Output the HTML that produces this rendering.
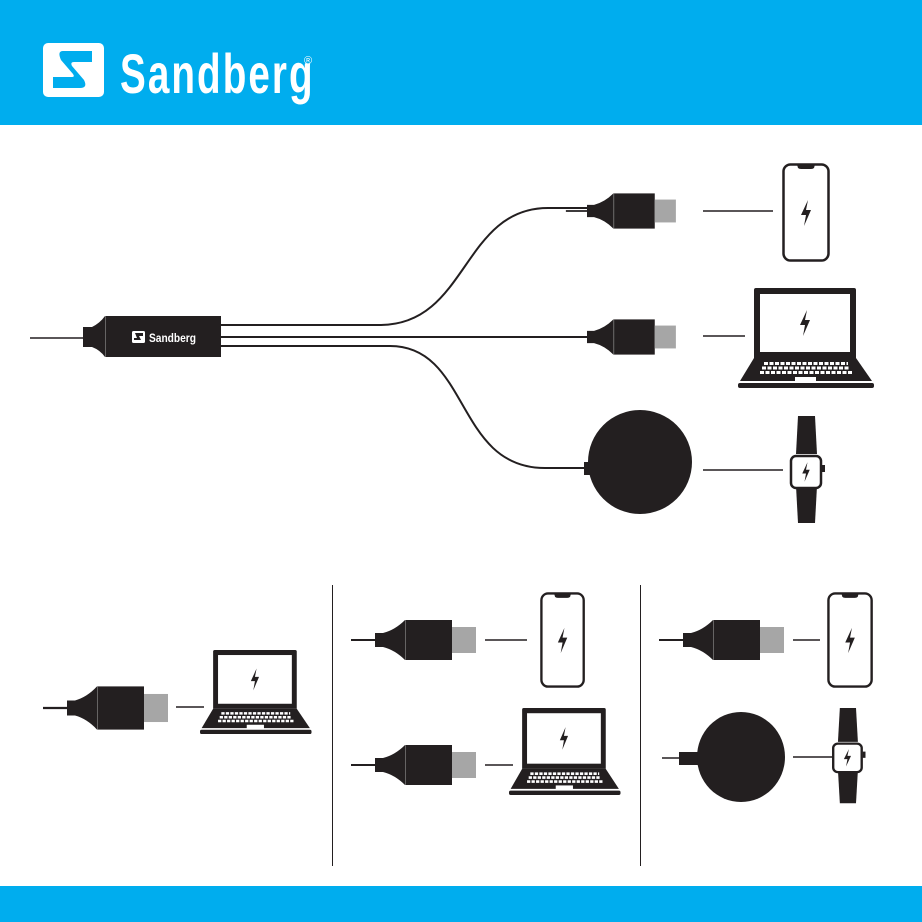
<!DOCTYPE html>
<html><head><meta charset="utf-8"><style>
html,body{margin:0;padding:0;background:#fff;width:922px;height:922px;overflow:hidden}
svg{display:block}
</style></head><body>
<svg width="922" height="922" viewBox="0 0 922 922" xmlns="http://www.w3.org/2000/svg">
<defs>
<g id="conn">
  <line x1="-24" y1="0" x2="1" y2="0" stroke="#231f20" stroke-width="2"/>
  <path d="M0,-7 L8,-7 Q20,-10 30,-20 L30,20 Q20,10 8,7 L0,7Z" fill="#231f20"/>
  <rect x="30" y="-20" width="47" height="40" fill="#231f20"/>
  <line x1="30.5" y1="-20" x2="30.5" y2="20" stroke="#777" stroke-width="0.8"/>
  <rect x="77" y="-13" width="24" height="26" fill="#a6a6a6"/>
</g>
<path id="bolt" d="M2,-13 L-5,2 L0,2 L-2,13 L5,-3 L0,-3Z" fill="#231f20"/>
<g id="phone">
  <rect x="1.5" y="1.5" width="45" height="96" rx="7" fill="#fff" stroke="#231f20" stroke-width="2.5"/>
  <path d="M15,1.5 L33,1.5 L32,5 Q31,6 29,6 L19,6 Q17,6 16,5Z" fill="#231f20"/>
  <use href="#bolt" x="24" y="50"/>
</g>
<g id="laptop">
  <path d="M18,0 L116,0 Q118,0 118,2 L118,70 L16,70 L16,2 Q16,0 18,0Z" fill="#231f20"/>
  <rect x="22" y="6" width="90" height="58" fill="#fff"/>
  <use href="#bolt" x="67" y="35"/>
  <path d="M16,70 L118,70 L134,93 L2,93Z" fill="#231f20"/>
  <g stroke="#fff" stroke-width="3" stroke-dasharray="4,1.5">
    <line x1="26" y1="75.5" x2="110" y2="75.5"/>
    <line x1="24" y1="80" x2="112" y2="80"/>
    <line x1="22" y1="84.5" x2="114" y2="84.5"/>
  </g>
  <rect x="57" y="89" width="21" height="5" fill="#fff"/>
  <rect x="0" y="95" width="136" height="5" rx="2" fill="#231f20"/>
</g>
<g id="watch">
  <path d="M3,0 L20,0 L22,38 L1,38Z" fill="#231f20"/>
  <path d="M1,70 L22,70 L20,107 L3,107Z" fill="#231f20"/>
  <rect x="-4" y="40" width="30" height="32" rx="5" fill="#fff" stroke="#231f20" stroke-width="2.5"/>
  <rect x="27" y="49" width="3" height="7" fill="#231f20"/>
  <use href="#bolt" x="11" y="56" transform="translate(11,56) scale(0.75) translate(-11,-56)"/>
</g>
</defs>

<!-- header/footer -->
<rect x="0" y="0" width="922" height="125" fill="#00adee"/>
<rect x="0" y="886" width="922" height="36" fill="#00adee"/>
<rect x="43" y="43" width="61" height="54" rx="5" fill="#fff"/>
<path d="M63,51 L92,51 L92,62 L74,62 Q70,62 72,66 L84,80 Q88,88 80,88 L53,88 L53,77 L72,77 Q75,77 73,74 L61,60 Q57,51 63,51Z" fill="#00adee"/>
<text x="120" y="93" font-family="'Liberation Sans',sans-serif" font-weight="bold" font-size="56" fill="#fff" transform="translate(120,0) scale(0.69,1) translate(-120,0)" letter-spacing="3">Sandberg</text>
<text x="304" y="64" font-family="'Liberation Sans',sans-serif" font-size="11" fill="#fff">®</text>

<!-- main adapter -->
<line x1="30" y1="338" x2="85" y2="338" stroke="#231f20" stroke-width="1.5"/>
<path d="M83,327 L92,327 Q100,323 105,316 L105,357 Q100,350 92,347 L83,347Z" fill="#231f20"/>
<rect x="105" y="316" width="116" height="41" fill="#231f20"/>
<line x1="105.5" y1="316" x2="105.5" y2="357" stroke="#777" stroke-width="0.8"/>
<rect x="132" y="331" width="13" height="12" rx="1.5" fill="#fff"/>
<path d="M135,333 L143,333 L143,336 L139,336 L141,340 L134,340 L134,338 L137,338Z" fill="#231f20"/>
<text x="149" y="342" font-family="'Liberation Sans',sans-serif" font-weight="bold" font-size="12" fill="#fff" transform="translate(149,0) scale(0.85,1) translate(-149,0)">Sandberg</text>
<g fill="none" stroke="#231f20" stroke-width="2">
  <path d="M221,325 L380,325 C468,325 462,208 548,208 L590,208"/>
  <path d="M221,337 L590,337"/>
  <path d="M221,346 L390,346 C470,346 455,468 545,468 L585,468"/>
</g>
<!-- top-right connectors -->
<use href="#conn" transform="translate(587,211) scale(0.88)"/>
<use href="#conn" transform="translate(587,337) scale(0.88)"/>
<line x1="703" y1="211" x2="773" y2="211" stroke="#231f20" stroke-width="1.5"/>
<line x1="703" y1="336" x2="745" y2="336" stroke="#231f20" stroke-width="1.5"/>
<use href="#phone" transform="translate(782,163)"/>
<use href="#laptop" transform="translate(738,288)"/>
<rect x="584" y="462" width="18" height="13" fill="#231f20"/>
<circle cx="640" cy="462" r="52" fill="#231f20"/>
<line x1="703" y1="470" x2="783" y2="470" stroke="#231f20" stroke-width="1.5"/>
<use href="#watch" transform="translate(795,416)"/>

<!-- dividers -->
<line x1="332.5" y1="585" x2="332.5" y2="866" stroke="#231f20" stroke-width="1"/>
<line x1="640.5" y1="585" x2="640.5" y2="866" stroke="#231f20" stroke-width="1"/>

<!-- panel 1 -->
<use href="#conn" transform="translate(67,708) scale(1,1.08)"/>
<line x1="176" y1="707" x2="204" y2="707" stroke="#231f20" stroke-width="1.5"/>
<use href="#laptop" transform="translate(200,650) scale(0.82,0.84)"/>

<!-- panel 2 -->
<use href="#conn" transform="translate(375,640)"/>
<line x1="485" y1="640" x2="527" y2="640" stroke="#231f20" stroke-width="1.5"/>
<use href="#phone" transform="translate(540,592) scale(0.94,0.97)"/>
<use href="#conn" transform="translate(375,765)"/>
<line x1="485" y1="765" x2="513" y2="765" stroke="#231f20" stroke-width="1.5"/>
<use href="#laptop" transform="translate(509,708) scale(0.82,0.87)"/>

<!-- panel 3 -->
<use href="#conn" transform="translate(683,640)"/>
<line x1="793" y1="640" x2="820" y2="640" stroke="#231f20" stroke-width="1.5"/>
<use href="#phone" transform="translate(827,592) scale(0.96,0.97)"/>
<line x1="662" y1="758" x2="681" y2="758" stroke="#231f20" stroke-width="1.5"/>
<rect x="679" y="752" width="20" height="13" fill="#231f20"/>
<ellipse cx="741" cy="757" rx="44" ry="45" fill="#231f20"/>
<line x1="793" y1="757" x2="833" y2="757" stroke="#231f20" stroke-width="1.5"/>
<use href="#watch" transform="translate(837,708) scale(0.95,0.89)"/>
</svg>
</body></html>
